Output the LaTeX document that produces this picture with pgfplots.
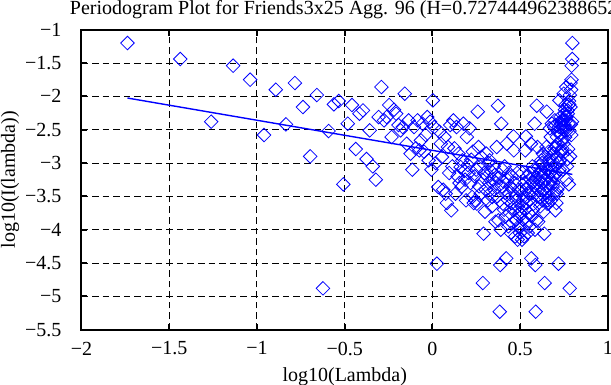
\documentclass[border=0pt]{standalone}
\usepackage{fontspec}
\setmainfont{Liberation Serif}
\usepackage{pgfplots}
\usepackage{pgfplotstable}
\pgfplotsset{compat=1.18}
\definecolor{mblue}{rgb}{0,0,1}
\pgfplotstableread{
x y
-1.738 -1.20
-1.437 -1.44
-1.261 -2.38
-1.136 -1.54
-1.039 -1.75
-0.960 -2.58
-0.893 -1.90
-0.835 -2.42
-0.784 -1.80
-0.738 -2.16
-0.697 -2.90
-0.659 -1.98
-0.624 -4.88
-0.592 -2.52
-0.562 -2.12
-0.534 -2.07
-0.508 -3.32
-0.483 -2.41
-0.459 -2.13
-0.437 -2.79
-0.416 -2.26
-0.396 -2.21
-0.376 -2.94
-0.358 -2.51
-0.340 -3.05
-0.323 -3.25
-0.307 -2.31
-0.291 -1.86
-0.276 -2.36
-0.261 -2.31
-0.247 -2.13
-0.233 -2.61
-0.219 -2.20
-0.207 -2.26
-0.194 -2.43
-0.182 -2.51
-0.170 -2.46
-0.158 -1.96
-0.147 -2.71
-0.136 -2.36
-0.125 -2.86
-0.115 -3.10
-0.105 -2.46
-0.095 -2.78
-0.085 -2.36
-0.075 -2.81
-0.066 -2.66
-0.057 -2.41
-0.048 -2.83
-0.039 -2.58
-0.030 -2.31
-0.022 -2.96
-0.014 -2.38
-0.006 -3.10
0.002 -2.06
0.010 -2.46
0.018 -3.00
0.025 -4.51
0.033 -3.36
0.040 -2.53
0.047 -2.71
0.054 -2.91
0.061 -3.40
0.068 -2.61
0.075 -3.46
0.082 -3.60
0.088 -2.76
0.095 -3.15
0.101 -2.43
0.107 -3.71
0.113 -3.05
0.119 -2.36
0.125 -2.78
0.131 -3.46
0.137 -2.46
0.143 -3.20
0.148 -2.86
0.154 -3.30
0.160 -3.06
0.165 -3.36
0.170 -2.96
0.176 -2.41
0.181 -3.12
0.186 -3.25
0.191 -3.56
0.196 -2.61
0.202 -3.03
0.206 -3.15
0.211 -2.48
0.216 -3.30
0.221 -2.95
0.226 -3.51
0.230 -2.83
0.235 -3.60
0.240 -3.20
0.244 -3.56
0.249 -3.10
0.253 -3.61
0.258 -2.23
0.262 -2.76
0.266 -3.35
0.271 -3.05
0.275 -3.46
0.279 -2.91
0.283 -3.25
0.287 -4.80
0.291 -4.06
0.295 -3.15
0.299 -3.73
0.303 -3.40
0.307 -2.86
0.311 -3.20
0.315 -3.56
0.319 -3.00
0.323 -3.30
0.326 -2.96
0.330 -3.45
0.334 -3.12
0.338 -3.65
0.341 -3.51
0.345 -3.25
0.348 -3.05
0.352 -3.40
0.355 -3.18
0.359 -3.88
0.362 -3.30
0.366 -2.76
0.369 -3.50
0.373 -2.14
0.376 -3.86
0.379 -3.22
0.383 -5.23
0.386 -4.53
0.389 -4.00
0.392 -2.41
0.396 -3.35
0.399 -3.10
0.402 -3.61
0.405 -3.28
0.408 -3.70
0.411 -3.05
0.414 -3.45
0.417 -3.80
0.420 -4.43
0.423 -2.71
0.426 -3.25
0.429 -3.55
0.432 -3.95
0.435 -3.15
0.438 -3.46
0.441 -3.75
0.444 -3.35
0.447 -4.05
0.450 -3.20
0.452 -3.60
0.455 -3.90
0.458 -3.40
0.461 -2.60
0.463 -2.81
0.466 -3.70
0.469 -3.30
0.472 -4.10
0.474 -3.50
0.477 -3.85
0.479 -3.56
0.482 -3.15
0.485 -4.15
0.487 -3.65
0.490 -3.40
0.492 -3.95
0.495 -3.75
0.498 -4.05
0.500 -3.75
0.503 -3.95
0.505 -3.40
0.508 -3.65
0.510 -4.15
0.512 -3.15
0.515 -3.56
0.517 -3.85
0.520 -3.50
0.522 -4.10
0.524 -3.30
0.527 -3.70
0.529 -2.81
0.532 -2.60
0.534 -3.40
0.536 -3.90
0.538 -3.60
0.541 -3.20
0.543 -4.05
0.545 -3.35
0.548 -3.75
0.550 -3.46
0.552 -3.15
0.554 -3.95
0.556 -3.55
0.559 -3.25
0.561 -2.71
0.563 -4.43
0.565 -3.80
0.567 -3.45
0.569 -3.05
0.572 -3.70
0.574 -3.28
0.576 -3.61
0.578 -3.10
0.580 -3.35
0.582 -2.41
0.584 -4.00
0.586 -4.53
0.588 -5.23
0.590 -3.22
0.592 -3.86
0.594 -2.14
0.596 -3.50
0.598 -2.76
0.600 -3.30
0.602 -3.88
0.604 -3.18
0.606 -3.40
0.608 -3.05
0.610 -3.25
0.612 -3.51
0.614 -3.65
0.616 -3.12
0.618 -3.45
0.620 -2.96
0.622 -3.30
0.624 -3.00
0.626 -3.56
0.627 -3.20
0.629 -2.86
0.631 -3.40
0.633 -3.73
0.635 -3.15
0.637 -4.06
0.639 -4.80
0.640 -3.25
0.642 -2.91
0.644 -3.46
0.646 -3.05
0.648 -3.35
0.649 -2.76
0.651 -2.23
0.653 -3.61
0.655 -3.10
0.656 -3.56
0.658 -3.20
0.660 -3.60
0.662 -2.83
0.663 -3.51
0.665 -2.95
0.667 -3.30
0.669 -2.48
0.670 -3.15
0.672 -3.03
0.674 -2.61
0.675 -3.56
0.677 -3.25
0.679 -3.12
0.680 -2.41
0.682 -2.96
0.684 -3.36
0.685 -3.06
0.687 -3.30
0.689 -2.86
0.690 -3.20
0.692 -2.46
0.693 -3.46
0.695 -2.78
0.697 -2.36
0.698 -3.05
0.700 -3.71
0.701 -2.43
0.703 -3.15
0.704 -2.76
0.706 -3.60
0.708 -3.46
0.709 -2.61
0.711 -3.40
0.712 -2.91
0.714 -2.71
0.715 -2.53
0.717 -3.36
0.718 -4.51
0.720 -3.00
0.721 -2.46
0.723 -2.06
0.724 -3.10
0.726 -2.38
0.727 -2.96
0.729 -2.31
0.730 -2.58
0.732 -2.83
0.733 -2.41
0.735 -2.66
0.736 -2.81
0.738 -2.36
0.739 -2.78
0.741 -2.46
0.742 -3.10
0.743 -2.86
0.745 -2.36
0.746 -2.71
0.748 -1.96
0.749 -2.46
0.751 -2.51
0.752 -2.43
0.753 -2.26
0.755 -2.20
0.756 -2.61
0.758 -2.13
0.759 -2.31
0.760 -2.36
0.762 -1.86
0.763 -2.31
0.764 -3.25
0.766 -3.05
0.767 -2.51
0.769 -2.94
0.770 -2.21
0.771 -2.26
0.773 -2.79
0.774 -2.13
0.775 -2.41
0.777 -3.32
0.778 -2.07
0.779 -2.12
0.781 -2.52
0.782 -4.88
0.783 -1.98
0.784 -2.90
0.786 -2.16
0.787 -1.80
0.788 -2.42
0.790 -1.90
0.791 -2.58
0.792 -1.75
0.793 -1.54
0.795 -2.38
0.796 -1.44
0.797 -1.20
}\pdata
\pgfplotstableread{
x y
-1.738 -2.025
0.797 -3.170
}\fitdata
\begin{document}
\begin{tikzpicture}
\useasboundingbox (-40.75pt,-27.65pt) rectangle (264.75pt,164.85pt);
\clip (-40.75pt,-27.65pt) rectangle (264.75pt,164.85pt);
\begin{axis}[
  at={(0pt,0pt)}, anchor=south west,
  scale only axis, width=263.25pt, height=150pt,
  xmin=-2, xmax=1, ymin=-5.5, ymax=-1,
  xtick={-2,-1.5,-1,-0.5,0,0.5,1},
  xticklabels={−2,−1.5,−1,−0.5,0,0.5,1},
  ytick={-5.5,-5,-4.5,-4,-3.5,-3,-2.5,-2,-1.5,-1},
  yticklabels={−5.5,−5,−4.5,−4,−3.5,−3,−2.5,−2,−1.5,−1},
  tick align=inside, major tick length=3pt,
  xtick pos=both, ytick pos=both,
  tick style={black, line width=1pt},
  axis line style={black, line width=1pt},
  grid=major,
  grid style={black, line width=0.5pt, dash pattern=on 3.3pt off 2pt},
  ticklabel style={font=\fontsize{10}{12}\selectfont},
  xticklabel style={yshift=-2.5pt},
  yticklabel style={xshift=-6.5pt},
  label style={font=\fontsize{10}{12}\selectfont},
  xlabel={log10(Lambda)},
  ylabel={log10(I(lambda))},
  xlabel style={at={(rel axis cs:0.5,0)}, anchor=center, yshift=-23.6pt},
  ylabel style={at={(rel axis cs:-0.1358,0.5)}, anchor=center},
  clip=false,
]
\addplot[only marks, mark=square, mark size=2.4pt,
  mark options={rotate=45, draw=mblue, line width=0.4pt, fill=none}]
  table[x=x, y=y] {\pdata};
\addplot[mblue, line width=0.7pt, no marks] table[x=x, y=y] {\fitdata};
\node[anchor=base west, inner sep=0pt, font=\fontsize{10}{12}\selectfont]
  at ([xshift=-6pt, yshift=7.5pt]rel axis cs:0,1)
  {Periodogram Plot for Friends3x25 Agg. 96 (H=0.727444962388652)};
\end{axis}
\end{tikzpicture}
\end{document}
